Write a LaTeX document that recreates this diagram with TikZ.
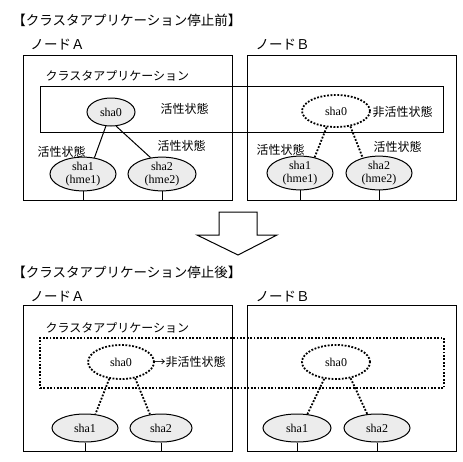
\documentclass[tikz,border=0pt]{standalone}
\usepackage{fontspec}
\setmainfont{Liberation Serif}
\newfontfamily\jp{Noto Sans CJK JP}
\usetikzlibrary{shapes.geometric}
\begin{document}
\begin{tikzpicture}[x=1pt,y=-1pt,line width=1pt,
  jtext/.style={font=\jp\fontsize{12}{14}\selectfont,inner sep=0pt,anchor=west},
  ttl/.style={font=\jp\fontsize{13.5}{15}\selectfont,inner sep=0pt,anchor=west},
  nodebox/.style={draw,rectangle,inner sep=0pt,anchor=north west},
  res/.style={ellipse,draw,fill=gray!15,inner sep=0pt,align=center,
    font=\fontsize{12}{13}\selectfont},
  dots/.style={line width=1.8pt,dash pattern=on 1.8pt off 1.6pt},
  resoff/.style={ellipse,draw,dots,fill=white,inner sep=0pt,
    font=\fontsize{12}{13}\selectfont},
  link/.style={line width=1pt},
  dlink/.style={dots}]
\useasboundingbox (0,0) rectangle (463,461);
\fill[white] (0,0) rectangle (463,461);

% ===== before =====
\node[ttl] (t1) at (12,20) {【クラスタアプリケーション停止前】};
\node[ttl] (la1) at (30,45) {ノードＡ};
\node[ttl] (lb1) at (255,45) {ノードＢ};
\node[nodebox,minimum width=209pt,minimum height=145pt] (bA1) at (23,55) {};
\node[nodebox,minimum width=209pt,minimum height=145pt] (bB1) at (247,55) {};
\node[nodebox,minimum width=403pt,minimum height=46pt] (ca1) at (40,86) {};
\node[jtext] (cl1) at (45,76) {クラスタアプリケーション};

\node[res,minimum width=48pt,minimum height=28pt] (s0a) at (111,112) {sha0};
\node[jtext] (st0a) at (160,109) {活性状態};
\node[res,minimum width=66pt,minimum height=30pt] (s1a) at (83,174) {sha1\\(hme1)};
\node[res,minimum width=68pt,minimum height=30pt] (s2a) at (162,174) {sha2\\(hme2)};
\node[jtext] (st1a) at (37,152) {活性状態};
\node[jtext] (st2a) at (157,146) {活性状態};
\draw[link] (s0a.250) -- (s1a.55);
\draw[link] (s0a.290) -- (s2a.125);
\draw (s1a.south) -- (s1a.south |- bA1.south);
\draw (s2a.south) -- (s2a.south |- bA1.south);

\node[resoff,minimum width=68pt,minimum height=32pt] (s0b) at (336,111) {sha0};
\node[jtext] (st0b) at (372,112) {非活性状態};
\node[res,minimum width=66pt,minimum height=30pt] (s1b) at (300,173) {sha1\\(hme1)};
\node[res,minimum width=66pt,minimum height=30pt] (s2b) at (379,173) {sha2\\(hme2)};
\node[jtext] (st1b) at (256,150) {活性状態};
\node[jtext] (st2b) at (373,147) {活性状態};
\draw[dlink] (s0b.240) -- (s1b.47);
\draw[dlink] (s0b.313) -- (s2b.137);
\draw (s1b.south) -- (s1b.south |- bB1.south);
\draw (s2b.south) -- (s2b.south |- bB1.south);

% ===== arrow =====
\draw[fill=white] (219,212) -- (257,212) -- (257,235) -- (277,235) -- (238,255)
  -- (197,235) -- (219,235) -- cycle;

% ===== after =====
\node[ttl] (t2) at (12,272) {【クラスタアプリケーション停止後】};
\node[ttl] (la2) at (30,297) {ノードＡ};
\node[ttl] (lb2) at (255,297) {ノードＢ};
\node[nodebox,minimum width=209pt,minimum height=146pt] (bA2) at (23,305) {};
\node[nodebox,minimum width=209pt,minimum height=146pt] (bB2) at (247,305) {};
\node[nodebox,dots,minimum width=404pt,minimum height=50pt] (ca2) at (39,337) {};
\node[jtext] (cl2) at (45,328) {クラスタアプリケーション};

\node[resoff,minimum width=66pt,minimum height=34pt] (u0a) at (121,362) {sha0};
\node[jtext] (ut0a) at (153,362) {→非活性状態};
\node[res,minimum width=66pt,minimum height=28pt] (u1a) at (85,428) {sha1};
\node[res,minimum width=62pt,minimum height=28pt] (u2a) at (161,428) {sha2};
\draw[dlink] (u0a.235) -- (u1a.53);
\draw[dlink] (u0a.311) -- (u2a.129);
\draw (u1a.south) -- (u1a.south |- bA2.south);
\draw (u2a.south) -- (u2a.south |- bA2.south);

\node[resoff,minimum width=68pt,minimum height=34pt] (u0b) at (336,362) {sha0};
\node[res,minimum width=68pt,minimum height=28pt] (u1b) at (297,428) {sha1};
\node[res,minimum width=66pt,minimum height=28pt] (u2b) at (377,428) {sha2};
\draw[dlink] (u0b.235) -- (u1b.53);
\draw[dlink] (u0b.312) -- (u2b.125);
\draw (u1b.south) -- (u1b.south |- bB2.south);
\draw (u2b.south) -- (u2b.south |- bB2.south);
\end{tikzpicture}
\end{document}
